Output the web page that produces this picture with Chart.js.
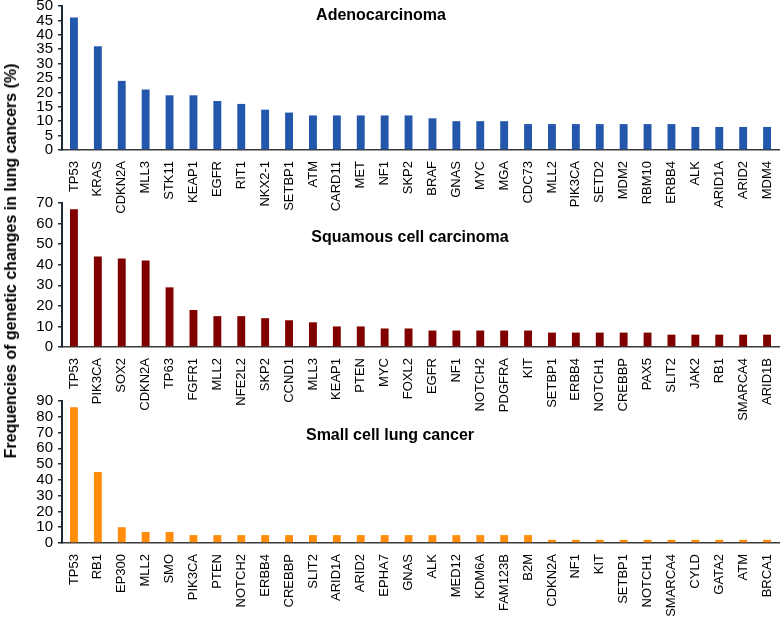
<!DOCTYPE html>
<html>
<head>
<meta charset="utf-8">
<script src="https://cdn.jsdelivr.net/npm/chart.js@4/dist/chart.umd.min.js"></script>
<style>
  body { margin: 0; background: #fff; }
  #wrap { position: relative; width: 780px; height: 617px; overflow: hidden; font-family: "Liberation Sans", Arial, sans-serif; }
  #wrap canvas { position: absolute; left: 0; }
  #yTitle { position: absolute; left: 11px; top: 261px; transform: translate(-50%, -50%) rotate(-90deg);
            font-weight: bold; font-size: 16px; white-space: nowrap; color: #000; }
</style>
</head>
<body>
<div id="wrap">
  <canvas id="chartAdeno" width="780" height="239" style="top:-4px"></canvas>
  <canvas id="chartSquamous" width="780" height="239" style="top:193px"></canvas>
  <canvas id="chartSclc" width="780" height="237" style="top:391px"></canvas>
  <div id="yTitle">Frequencies of genetic changes in lung cancers (%)</div>
</div>
<script>
// === DATA ===
const adenoGenes = ['TP53', 'KRAS', 'CDKN2A', 'MLL3', 'STK11', 'KEAP1', 'EGFR', 'RIT1', 'NKX2-1', 'SETBP1',
  'ATM', 'CARD11', 'MET', 'NF1', 'SKP2', 'BRAF', 'GNAS', 'MYC', 'MGA', 'CDC73',
  'MLL2', 'PIK3CA', 'SETD2', 'MDM2', 'RBM10', 'ERBB4', 'ALK', 'ARID1A', 'ARID2', 'MDM4'];
const adenoValues = [46, 36, 24, 21, 19, 19, 17, 16, 14, 13,
  12, 12, 12, 12, 12, 11, 10, 10, 10, 9,
  9, 9, 9, 9, 9, 9, 8, 8, 8, 8];
const adenoTicks = [0, 5, 10, 15, 20, 25, 30, 35, 40, 45, 50];

const squamousGenes = ['TP53', 'PIK3CA', 'SOX2', 'CDKN2A', 'TP63', 'FGFR1', 'MLL2', 'NFE2L2', 'SKP2', 'CCND1',
  'MLL3', 'KEAP1', 'PTEN', 'MYC', 'FOXL2', 'EGFR', 'NF1', 'NOTCH2', 'PDGFRA', 'KIT',
  'SETBP1', 'ERBB4', 'NOTCH1', 'CREBBP', 'PAX5', 'SLIT2', 'JAK2', 'RB1', 'SMARCA4', 'ARID1B'];
const squamousValues = [67, 44, 43, 42, 29, 18, 15, 15, 14, 13,
  12, 10, 10, 9, 9, 8, 8, 8, 8, 8,
  7, 7, 7, 7, 7, 6, 6, 6, 6, 6];
const squamousTicks = [0, 10, 20, 30, 40, 50, 60, 70];

const sclcGenes = ['TP53', 'RB1', 'EP300', 'MLL2', 'SMO', 'PIK3CA', 'PTEN', 'NOTCH2', 'ERBB4', 'CREBBP',
  'SLIT2', 'ARID1A', 'ARID2', 'EPHA7', 'GNAS', 'ALK', 'MED12', 'KDM6A', 'FAM123B', 'B2M',
  'CDKN2A', 'NF1', 'KIT', 'SETBP1', 'NOTCH1', 'SMARCA4', 'CYLD', 'GATA2', 'ATM', 'BRCA1'];
const sclcValues = [86, 45, 10, 7, 7, 5, 5, 5, 5, 5,
  5, 5, 5, 5, 5, 5, 5, 5, 5, 5,
  2, 2, 2, 2, 2, 2, 2, 2, 2, 2];
const sclcTicks = [0, 10, 20, 30, 40, 50, 60, 70, 80, 90];

// === SETTINGS ===
const FONT = '"Liberation Sans", Arial, sans-serif';
const AXIS_COLOR = '#1e2a3a';

// === PANEL TITLE PLUGIN ===
function titlePlugin(text, x, dy) {
  return {
    id: 'panelTitle',
    afterDraw(chart) {
      const ctx = chart.ctx;
      ctx.save();
      ctx.font = 'bold 16px ' + FONT;
      ctx.fillStyle = '#000';
      ctx.textAlign = 'center';
      ctx.textBaseline = 'middle';
      ctx.fillText(text, x, chart.chartArea.top + dy);
      ctx.restore();
    }
  };
}

// === BUAT CHART ===
function buatPanel(id, genes, values, ticks, color, title, titleX, titleDy) {
  const ctx = document.getElementById(id).getContext('2d');
  return new Chart(ctx, {
    type: 'bar',
    data: {
      labels: genes,
      datasets: [{
        data: values,
        backgroundColor: color,
        barPercentage: 0.33,
        categoryPercentage: 1
      }]
    },
    options: {
      responsive: false,
      animation: false,
      devicePixelRatio: 1,
      layout: { padding: { top: 10, right: 1, left: 0, bottom: 0 } },
      plugins: { legend: { display: false }, tooltip: { enabled: false } },
      scales: {
        x: {
          offset: true,
          grid: { display: false },
          border: { display: true, color: '#3a3a3a', width: 1.5 },
          ticks: {
            autoSkip: false, minRotation: 90, maxRotation: 90, padding: 3,
            color: '#000', font: { family: FONT, size: 13 }
          },
          afterFit: s => { s.height = 85; s.paddingLeft = 0; s.paddingRight = 0; }
        },
        y: {
          min: ticks[0],
          max: ticks[ticks.length - 1],
          grid: { drawOnChartArea: false, drawTicks: true, tickLength: 4, color: AXIS_COLOR, lineWidth: 1.5 },
          border: { display: true, color: AXIS_COLOR, width: 2 },
          ticks: {
            stepSize: ticks[1] - ticks[0], autoSkip: false, padding: 5,
            color: '#000', font: { family: FONT, size: 15 }
          },
          afterFit: s => { s.width = 62; s.paddingTop = 0; s.paddingBottom = 0; }
        }
      }
    },
    plugins: [titlePlugin(title, titleX, titleDy)]
  });
}

// === RENDER ===
buatPanel('chartAdeno', adenoGenes, adenoValues, adenoTicks, '#2357ac', 'Adenocarcinoma', 381, 10);
buatPanel('chartSquamous', squamousGenes, squamousValues, squamousTicks, '#800000', 'Squamous cell carcinoma', 410, 35);
buatPanel('chartSclc', sclcGenes, sclcValues, sclcTicks, '#ff8c0a', 'Small cell lung cancer', 390, 35);
</script>
</body>
</html>
